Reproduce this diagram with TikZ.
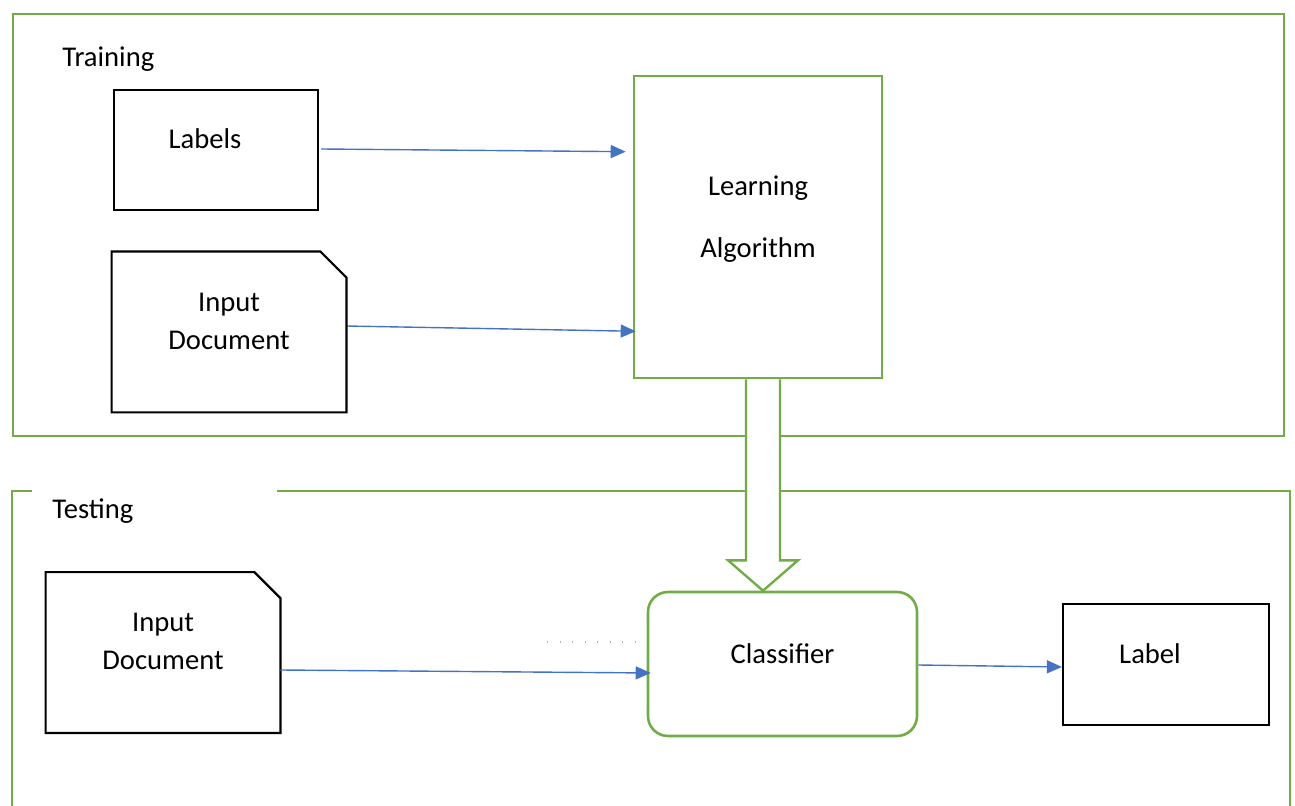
\documentclass[tikz,border=0pt]{standalone}
\usepackage{fontspec}
\setmainfont{Carlito}
\usepackage{xcolor}
\usetikzlibrary{arrows.meta, positioning, calc}
\definecolor{framegreen}{HTML}{70AD47}
\definecolor{flowblue}{HTML}{4472C4}

\begin{document}
\begin{tikzpicture}[
  x=0.5pt, y=-0.5pt,
  font=\fontsize{14.3}{17}\selectfont,
  frame/.style={draw=framegreen, line width=1.3pt},
  box/.style={draw, line width=1.1pt, inner sep=0pt},
  docbox/.style={inner sep=0pt, minimum width=117pt, minimum height=80pt},
  greenbox/.style={draw=framegreen, line width=1.3pt, rounded corners=10pt, inner sep=0pt},
  flow/.style={draw=flowblue, line width=0.7pt, -{Triangle[length=7.5pt,width=6.5pt]}},
  head/.style={anchor=base west, inner sep=0pt}
]
\useasboundingbox (0,0) rectangle (1295,806);

% frames
\node[frame, minimum width=635.5pt, minimum height=211pt] (trainframe) at (648.5,225) {};
\node[head] (traintitle) at (62,67) {Training};
\draw[frame] (32,491) -- (12,491) -- (12,830);
\draw[frame] (277,491) -- (1290,491) -- (1290,830);
\node[head] (testtitle) at (52,519) {Testing};

% training part
\node[box, minimum width=102pt, minimum height=60pt,
  label={[shift={(-11,-11)}]center:Labels}] (labels) at (216,150) {};
\node[docbox, label={[shift={(0,-11)}, align=center]center:Input\\[2pt]Document}] (doctrain) at (229,332) {};
\node[box, draw=framegreen, line width=1.3pt, minimum width=124pt, minimum height=151pt,
  label={[shift={(0,-7.5)}, align=center]center:Learning\\[14pt]Algorithm}] (learn) at (758,227) {};

\draw[flow] ([shift={(2,-1)}]labels.east) -- ([shift={(-7,77)}]learn.north west);
\draw[flow] ([shift={(0,-6)}]doctrain.east) -- ([shift={(3,-48)}]learn.south west);

% testing part
\node[docbox, label={[shift={(0,-11.5)}, align=center]center:Input\\[2pt]Document}] (doctest) at (163,652.5) {};
\node[greenbox, minimum width=134.5pt, minimum height=72pt,
  label={[shift={(0,-10)}]center:Classifier}] (classifier) at (782.5,664) {};
\node[box, minimum width=103pt, minimum height=60.5pt,
  label={[shift={(-16,-10.5)}]center:Label}] (labelbox) at (1166,664.5) {};

% document outlines with the cut corner
\foreach \d in {doctrain,doctest}
  \draw[line width=1.1pt] (\d.north west) -- ([xshift=-13pt]\d.north east)
    -- ([yshift=-13pt]\d.north east) -- (\d.south east) -- (\d.south west) -- cycle;

\coordinate (dotstart) at (547,642);
\coordinate (dotend) at (637,642);
\draw[black!30, line width=0.6pt, dash pattern=on 0.4pt off 5.85pt] (dotstart) -- (dotend);

\draw[flow] ([shift={(0,17.5)}]doctest.east) -- ([shift={(4,9)}]classifier.west);
\draw[flow] ([shift={(0,1)}]classifier.east) -- ([shift={(0,2.5)}]labelbox.west);

% model handed over
\coordinate (modeltop) at ([xshift=2.5pt]learn.south);
\coordinate (modeltip) at (modeltop |- classifier.north);
\draw[draw=framegreen, line width=1.2pt, fill=white]
  ($(modeltop)+(-17,0)$) -- ($(modeltop)+(-17,181)$) -- ($(modeltop)+(-35,181)$)
  -- (modeltip) -- ($(modeltop)+(35,181)$) -- ($(modeltop)+(17,181)$)
  -- ($(modeltop)+(17,0)$);
\end{tikzpicture}
\end{document}
